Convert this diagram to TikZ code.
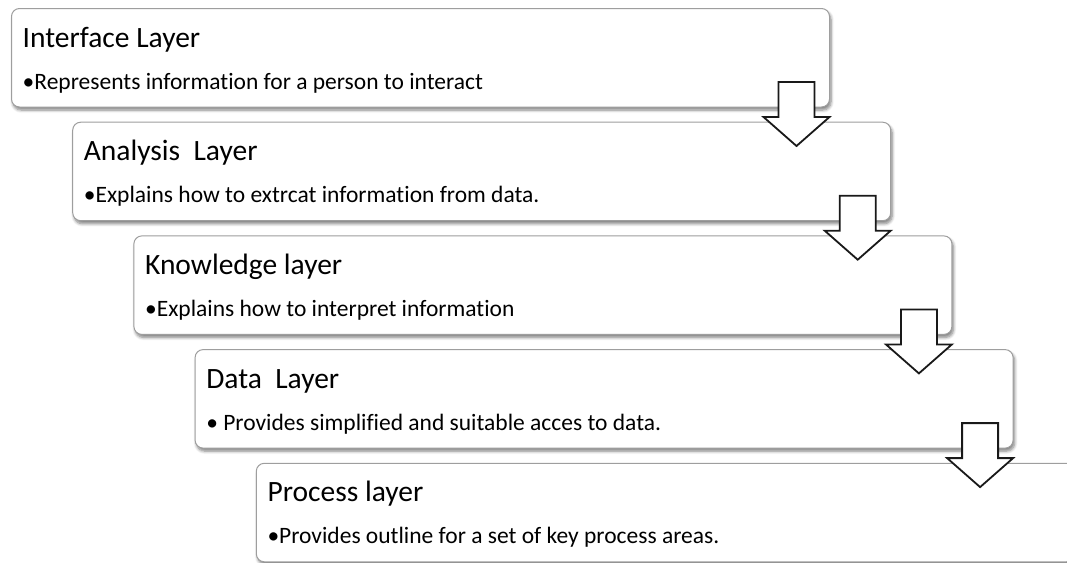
\documentclass[tikz,border=0pt]{standalone}
\usepackage{fontspec}
\setmainfont{Carlito}[Ligatures=NoCommon]
\usetikzlibrary{calc,shadows.blur}

\tikzset{
  layerbox/.style={
    draw=black!38, line width=1pt, fill=white,
    rounded corners=8pt,
    minimum width=818pt, minimum height=98.5pt,
    inner sep=0pt, outer sep=0pt,
    blur shadow={shadow xshift=1.5pt, shadow yshift=-3pt,
                 shadow blur radius=3pt, shadow blur steps=6,
                 shadow opacity=50}
  },
  layertitle/.style={anchor=base west, inner sep=0pt,
    font=\fontsize{29.5}{34}\selectfont, text=black},
  layertext/.style={anchor=base west, inner sep=0pt,
    font=\fontsize{23.5}{27}\selectfont, text=black},
  blockarrow/.style={draw=black!90, line width=1.8pt, fill=white,
    line join=miter},
  pics/downarrow/.style={code={
    \path[blockarrow] (-18,0) -- (18,0) -- (18,35) -- (33,35)
      -- (0,64) -- (-33,35) -- (-18,35) -- cycle;
  }}
}

\begin{document}
\begin{tikzpicture}[x=1pt, y=-1pt]
  \useasboundingbox (0,0) rectangle (1067,562);
  \clip (0,0) rectangle (1067,562);

  % the five layers, each shifted right and down from the one above
  \foreach \i/\ttl/\txt in {
      0/Interface Layer/{•Represents information for a person to interact},
      1/Analysis~~Layer/{•Explains how to extrcat information from data.},
      2/Knowledge layer/{•Explains how to interpret information},
      3/Data~~Layer/{• Provides simplified and suitable acces to data.},
      4/Process layer/{•Provides outline for a set of key process areas.}} {
    \node[layerbox, anchor=north west] (b\i)
      at ({11.5+61.2*\i}, {8.5+113.7*\i}) {};
    \node[layertitle] (t\i) at ($(b\i.north west)+(11,38.5)$) {\ttl};
    \node[layertext] (d\i) at ($(b\i.north west)+(11,80.5)$) {\txt};
  }

  % arrows linking each layer to the next one
  \foreach \i in {0,1,2,3} {
    \coordinate (a\i) at ($(b\i.north east)+(-33,73.5)$);
    \pic at (a\i) {downarrow};
  }
\end{tikzpicture}
\end{document}
